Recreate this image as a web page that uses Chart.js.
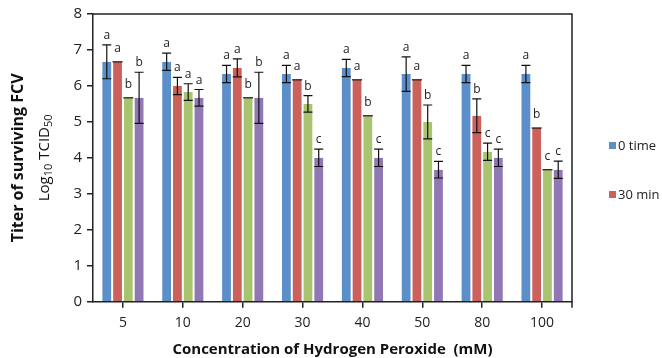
<!DOCTYPE html>
<html lang="en">
<head>
  <meta charset="UTF-8">
  <title>Titer of surviving FCV</title>
  <script src="https://cdn.jsdelivr.net/npm/chart.js"></script>
  <style>
    html, body { margin: 0; padding: 0; background: #fff; }
    .chart-box { width: 662px; height: 358px; }
  </style>
</head>
<body>
  <div class="chart-box">
    <canvas id="myChart"></canvas>
  </div>

  <script>
    const categories = ["5", "10", "20", "30", "40", "50", "80", "100"];
    const seriesNames = ["0 time", "30 min", "60 min", "90 min"];
    const colors = ["#5B8FC9", "#CC605A", "#A9C46E", "#9177B3"];

    // titer values (Log10 TCID50)
    const time0  = [6.67, 6.67, 6.33, 6.33, 6.5, 6.33, 6.33, 6.33];
    const min30  = [6.67, 6.0, 6.5, 6.17, 6.17, 6.17, 5.17, 4.83];
    const min60  = [5.67, 5.83, 5.67, 5.5, 5.17, 5.0, 4.17, 3.67];
    const min90  = [5.67, 5.67, 5.67, 4.0, 4.0, 3.67, 4.0, 3.67];

    // error (+/-)
    const err0  = [0.47, 0.24, 0.24, 0.24, 0.24, 0.48, 0.24, 0.24];
    const err30 = [0, 0.24, 0.25, 0, 0, 0, 0.47, 0];
    const err60 = [0, 0.23, 0, 0.23, 0, 0.47, 0.24, 0];
    const err90 = [0.71, 0.23, 0.71, 0.24, 0.24, 0.23, 0.24, 0.24];

    // significance letters
    const let0  = ["a", "a", "a", "a", "a", "a", "a", "a"];
    const let30 = ["a", "a", "a", "a", "a", "a", "b", "b"];
    const let60 = ["b", "a", "b", "b", "b", "b", "c", "c"];
    const let90 = ["b", "a", "b", "c", "c", "c", "c", "c"];

    const yTicks = [0, 1, 2, 3, 4, 5, 6, 7, 8];

    const values = [time0, min30, min60, min90];
    const errors = [err0, err30, err60, err90];
    const letters = [let0, let30, let60, let90];

    const FONT = "'Open Sans', 'Noto Sans', sans-serif";
    const AXIS = "#222";

    // error bars, letters, frame, y title and legend
    const extras = {
      id: "extras",
      afterDatasetsDraw(chart) {
        const ctx = chart.ctx;
        const y = chart.scales.y;
        ctx.save();
        ctx.strokeStyle = "#111";
        ctx.lineWidth = 1.2;
        ctx.fillStyle = "#222";
        ctx.font = "12px " + FONT;
        ctx.textAlign = "center";
        ctx.textBaseline = "alphabetic";
        values.forEach((vals, d) => {
          const meta = chart.getDatasetMeta(d);
          meta.data.forEach((bar, i) => {
            const e = errors[d][i];
            const yt = y.getPixelForValue(vals[i] + e);
            const yb = y.getPixelForValue(vals[i] - e);
            const x = bar.x;
            const cap = e > 0 ? 4.5 : 5;
            ctx.beginPath();
            if (e > 0) {
              ctx.moveTo(x, yt); ctx.lineTo(x, yb);
              ctx.moveTo(x - cap, yb); ctx.lineTo(x + cap, yb);
            }
            ctx.moveTo(x - cap, yt); ctx.lineTo(x + cap, yt);
            ctx.stroke();
            ctx.fillText(letters[d][i], x, yt - (e > 0 ? 6 : 10));
          });
        });
        ctx.restore();
      },
      afterDraw(chart) {
        const ctx = chart.ctx;
        const a = chart.chartArea;
        ctx.save();
        // top and right frame
        ctx.strokeStyle = AXIS;
        ctx.lineWidth = 1.5;
        ctx.beginPath();
        ctx.moveTo(a.left, a.top); ctx.lineTo(a.right, a.top); ctx.lineTo(a.right, a.bottom + 6);
        ctx.stroke();

        // y title (two lines)
        const cy = (a.top + a.bottom) / 2;
        ctx.translate(18, cy);
        ctx.rotate(-Math.PI / 2);
        ctx.fillStyle = "#111";
        ctx.textAlign = "center";
        ctx.textBaseline = "middle";
        ctx.font = "bold 16px " + FONT;
        ctx.fillText("Titer of surviving FCV", 0, 0);

        const parts = [
          ["Log", 15, 0], ["10", 11, 4], [" TCID", 15, 0], ["50", 11, 4]
        ];
        let total = 0;
        parts.forEach(p => { ctx.font = p[1] + "px " + FONT; total += ctx.measureText(p[0]).width; });
        let px = -total / 2;
        ctx.textAlign = "left";
        parts.forEach(p => {
          ctx.font = p[1] + "px " + FONT;
          ctx.fillText(p[0], px, 27 + p[2]);
          px += ctx.measureText(p[0]).width;
        });
        ctx.restore();

        // legend (first two series)
        ctx.save();
        ctx.font = "13px " + FONT;
        ctx.textBaseline = "middle";
        ctx.fillStyle = "#222";
        [0, 1].forEach((d, k) => {
          const ly = 146 + k * 49;
          ctx.fillStyle = colors[d];
          ctx.fillRect(609, ly - 4, 7, 7);
          ctx.fillStyle = "#222";
          ctx.fillText(seriesNames[d], 618, ly);
        });
        ctx.restore();
      }
    };

    const myChart = document.getElementById("myChart");
    new Chart(myChart, {
      type: "bar",
      data: {
        labels: categories,
        datasets: values.map((vals, d) => ({
          label: seriesNames[d],
          data: vals,
          backgroundColor: colors[d],
          borderColor: "rgba(255,255,255,0.6)",
          borderWidth: { left: 1, right: 1 },
          barPercentage: 1.0,
          categoryPercentage: 0.72
        }))
      },
      options: {
        responsive: true,
        maintainAspectRatio: false,
        animation: false,
        layout: { padding: { left: 0, right: 90, top: 10, bottom: 0 } },
        plugins: {
          legend: { display: false },
          tooltip: { enabled: false }
        },
        scales: {
          x: {
            grid: { offset: false, drawOnChartArea: false, drawTicks: true, tickLength: 6, color: AXIS, lineWidth: 1.5 },
            border: { display: true, color: AXIS, width: 1.5 },
            ticks: { color: "#222", font: { family: FONT, size: 14 }, padding: 7 },
            title: {
              display: true,
              text: "Concentration of Hydrogen Peroxide  (mM)",
              color: "#111",
              font: { family: FONT, size: 15, weight: "bold", lineHeight: 1.1 },
              padding: { top: 3, bottom: 0 }
            }
          },
          y: {
            min: 0,
            max: 8,
            afterBuildTicks(axis) { axis.ticks = yTicks.map(v => ({ value: v })); },
            afterFit(axis) { axis.width = 93; },
            grid: { drawOnChartArea: false, drawTicks: true, tickLength: 6, color: AXIS, lineWidth: 1.5 },
            border: { display: true, color: AXIS, width: 1.5 },
            ticks: { color: "#222", font: { family: FONT, size: 15 }, padding: 5 }
          }
        }
      },
      plugins: [extras]
    });
  </script>
</body>
</html>
